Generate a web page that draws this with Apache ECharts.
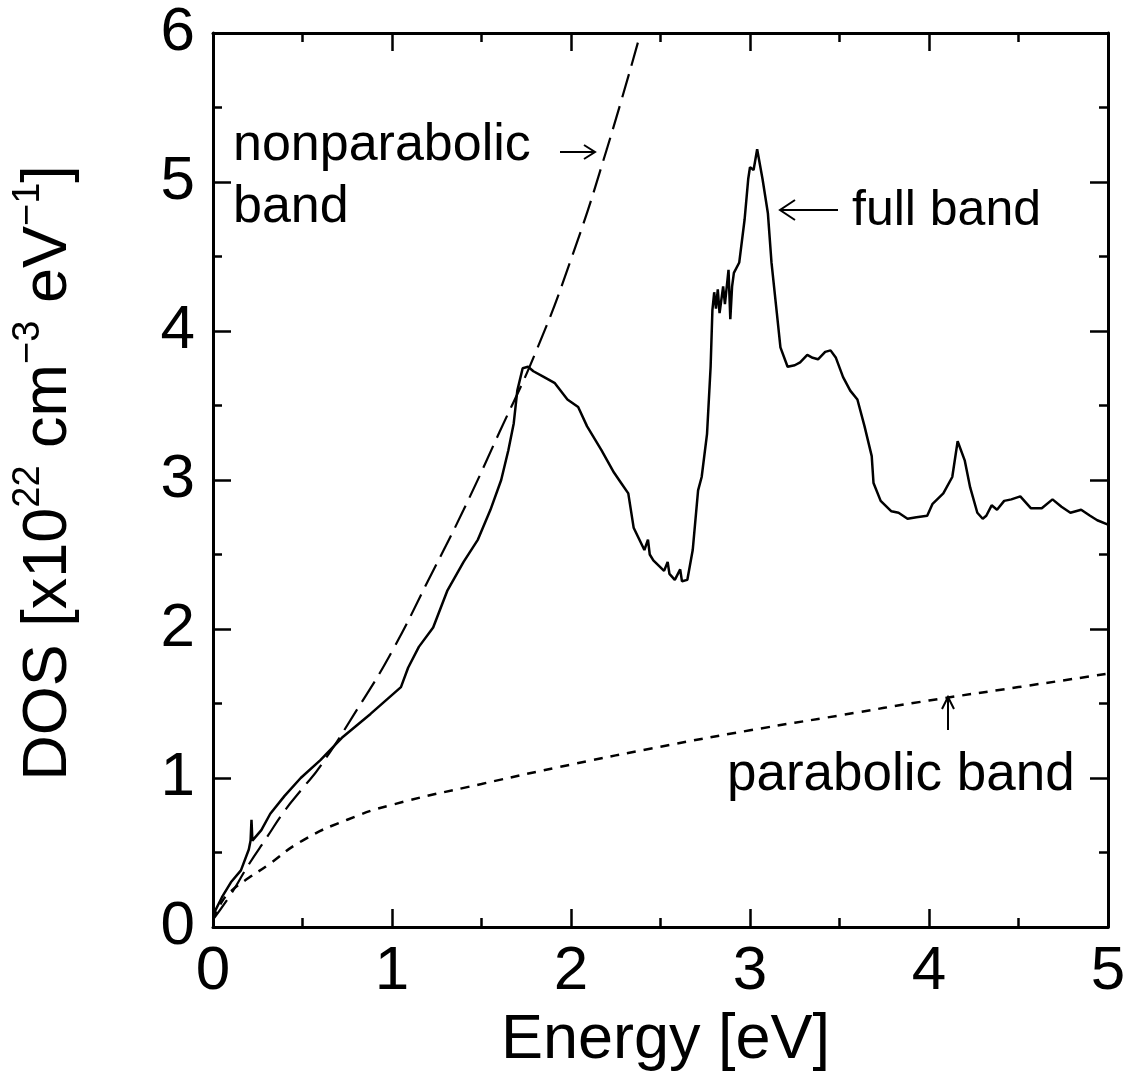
<!DOCTYPE html>
<html>
<head>
<meta charset="utf-8">
<script src="https://cdn.jsdelivr.net/npm/echarts@6/dist/echarts.min.js"></script>
<style>
html,body{margin:0;padding:0;background:#fff;}
#chart{width:1130px;height:1081px;}
</style>
</head>
<body>
<div id="chart"></div>
<script>
// ---- data ----
const xTicks = [0, 1, 2, 3, 4, 5];
const yTicks = [0, 1, 2, 3, 4, 5, 6];

const energyFull = [0,0.05,0.1,0.156,0.2,0.21,0.215,0.22,0.27,0.32,0.4,0.49,0.6,0.72,0.88,1.05,1.09,1.15,1.23,1.31,1.4,1.48,1.55,1.61,1.65,1.68,1.70,1.73,1.76,1.79,1.85,1.91,1.98,2.04,2.09,2.17,2.24,2.28,2.32,2.35,2.41,2.43,2.44,2.46,2.52,2.54,2.55,2.58,2.61,2.62,2.65,2.68,2.71,2.73,2.76,2.78,2.79,2.80,2.81,2.82,2.83,2.85,2.86,2.88,2.89,2.90,2.91,2.94,2.97,2.99,3.0,3.02,3.04,3.07,3.10,3.12,3.15,3.17,3.21,3.25,3.28,3.32,3.35,3.38,3.42,3.45,3.48,3.52,3.56,3.60,3.64,3.68,3.69,3.73,3.79,3.83,3.88,3.93,3.99,4.02,4.08,4.13,4.16,4.20,4.23,4.27,4.30,4.32,4.35,4.38,4.42,4.46,4.51,4.57,4.63,4.69,4.74,4.79,4.85,4.90,4.94,5.0];
const dosFull = [0.08,0.2,0.3,0.38,0.52,0.58,0.72,0.58,0.65,0.76,0.88,1.0,1.12,1.27,1.43,1.61,1.74,1.88,2.01,2.26,2.45,2.6,2.8,3.0,3.2,3.38,3.6,3.75,3.76,3.73,3.69,3.65,3.54,3.49,3.36,3.2,3.05,2.98,2.91,2.68,2.53,2.6,2.5,2.46,2.39,2.45,2.37,2.33,2.40,2.32,2.33,2.53,2.93,3.02,3.31,3.76,4.14,4.26,4.15,4.28,4.12,4.3,4.18,4.41,4.08,4.3,4.39,4.46,4.75,5.02,5.10,5.08,5.22,5.02,4.79,4.46,4.12,3.89,3.76,3.77,3.79,3.84,3.82,3.81,3.86,3.87,3.82,3.69,3.6,3.54,3.36,3.16,2.98,2.86,2.79,2.78,2.74,2.75,2.76,2.84,2.91,3.02,3.26,3.13,2.95,2.78,2.74,2.76,2.83,2.80,2.86,2.87,2.89,2.81,2.81,2.87,2.82,2.78,2.80,2.76,2.73,2.70];

const energyNonPar = [0,0.1,0.2,0.3,0.4,0.5,0.6,0.8,1.0,1.2,1.4,1.6,1.8,2.0,2.2,2.4];
const dosNonPar    = [0.05,0.22,0.42,0.6,0.78,0.93,1.08,1.45,1.85,2.32,2.8,3.32,3.85,4.48,5.22,6.05];

const energyPar = [0,0.05,0.1,0.2,0.3,0.5,0.75,1.0,1.5,2.0,2.5,3.0,3.5,4.0,4.5,5.0];
const dosPar    = [0.05,0.17,0.24,0.33,0.41,0.58,0.72,0.82,0.96,1.09,1.21,1.32,1.42,1.52,1.61,1.7];

const zip = (xs, ys) => xs.map((x, i) => [x, ys[i]]);

const FONT = '"Liberation Sans", Arial, Helvetica, sans-serif';
const BLACK = '#000';

const axisCommon = {
  axisLine: { show: true, onZero: false, lineStyle: { color: BLACK, width: 3 } },
  axisTick: { show: true, inside: true, length: 18, lineStyle: { color: BLACK, width: 2.5 } },
  minorTick: { show: true, splitNumber: 2, length: 9, lineStyle: { color: BLACK, width: 2.5 } },
  splitLine: { show: false },
  minorSplitLine: { show: false }
};

const chart = echarts.init(document.getElementById('chart'), null, { renderer: 'canvas' });

const option = {
  backgroundColor: '#fff',
  animation: false,
  grid: { left: 213, right: 22, top: 33, bottom: 154, containLabel: false },
  xAxis: [
    Object.assign({
      type: 'value', min: xTicks[0], max: xTicks[xTicks.length - 1], interval: 1, position: 'bottom',
      axisLabel: { show: true, margin: 14, color: BLACK, fontSize: 62, fontFamily: FONT,
        formatter: v => String(v) },
      name: 'Energy [eV]', nameLocation: 'middle', nameGap: 82,
      nameTextStyle: { color: BLACK, fontSize: 63, fontFamily: FONT, padding: [0, 0, 0, 10] }
    }, axisCommon),
    Object.assign({
      type: 'value', min: xTicks[0], max: xTicks[xTicks.length - 1], interval: 1, position: 'top',
      axisLabel: { show: false }
    }, axisCommon)
  ],
  yAxis: [
    Object.assign({
      type: 'value', min: yTicks[0], max: yTicks[yTicks.length - 1], interval: 1, position: 'left',
      axisLabel: { show: true, margin: 18, color: BLACK, fontSize: 62, fontFamily: FONT,
        formatter: v => String(v) }
    }, axisCommon),
    Object.assign({
      type: 'value', min: yTicks[0], max: yTicks[yTicks.length - 1], interval: 1, position: 'right',
      axisLabel: { show: false }
    }, axisCommon)
  ],
  series: [
    {
      name: 'full band', type: 'line', data: zip(energyFull, dosFull),
      showSymbol: false, symbol: 'none', clip: true,
      lineStyle: { color: BLACK, width: 2.5 }
    },
    {
      name: 'nonparabolic band', type: 'line', data: zip(energyNonPar, dosNonPar),
      showSymbol: false, symbol: 'none', smooth: true, clip: true,
      lineStyle: { color: BLACK, width: 2.2, type: [24, 9] }
    },
    {
      name: 'parabolic band', type: 'line', data: zip(energyPar, dosPar),
      showSymbol: false, symbol: 'none', smooth: true, clip: true,
      lineStyle: { color: BLACK, width: 2.5, type: [9, 8] }
    }
  ],
  graphic: [
    {
      type: 'text', x: 45, y: 473, rotation: Math.PI / 2,
      style: {
        text: '{m|DOS [x10}{s|22}{m| cm}{s|−3}{m| eV}{s|−1}{m|]}',
        align: 'center', verticalAlign: 'middle', fill: BLACK,
        rich: {
          m: { fontSize: 63, fontFamily: FONT, lineHeight: 70, fill: BLACK, verticalAlign: 'bottom' },
          s: { fontSize: 38, fontFamily: FONT, lineHeight: 38, fill: BLACK, verticalAlign: 'top' }
        }
      }
    },
    { type: 'text', x: 233, y: 146, style: { text: 'nonparabolic', font: '52px ' + FONT, fill: BLACK, align: 'left', verticalAlign: 'middle' } },
    { type: 'text', x: 233, y: 208, style: { text: 'band', font: '52px ' + FONT, fill: BLACK, align: 'left', verticalAlign: 'middle' } },
    { type: 'text', x: 852, y: 211, style: { text: 'full band', font: '50px ' + FONT, fill: BLACK, align: 'left', verticalAlign: 'middle' } },
    { type: 'text', x: 727, y: 775, style: { text: 'parabolic band', font: '53px ' + FONT, fill: BLACK, align: 'left', verticalAlign: 'middle' } },
    // arrow -> after "nonparabolic"
    { type: 'line', shape: { x1: 560, y1: 152, x2: 595, y2: 152 }, style: { stroke: BLACK, lineWidth: 2 } },
    { type: 'polyline', shape: { points: [[584, 145], [595, 152], [584, 159]] }, style: { stroke: BLACK, lineWidth: 2, fill: null } },
    // arrow <- before "full band"
    { type: 'line', shape: { x1: 780, y1: 210, x2: 838, y2: 210 }, style: { stroke: BLACK, lineWidth: 2 } },
    { type: 'polyline', shape: { points: [[795, 200], [780, 210], [795, 220]] }, style: { stroke: BLACK, lineWidth: 2, fill: null } },
    // up arrow above "parabolic band"
    { type: 'line', shape: { x1: 948, y1: 730, x2: 948, y2: 697 }, style: { stroke: BLACK, lineWidth: 2 } },
    { type: 'polyline', shape: { points: [[942, 709], [948, 697], [954, 709]] }, style: { stroke: BLACK, lineWidth: 2, fill: null } }
  ]
};
chart.setOption(option);
</script>
</body>
</html>
